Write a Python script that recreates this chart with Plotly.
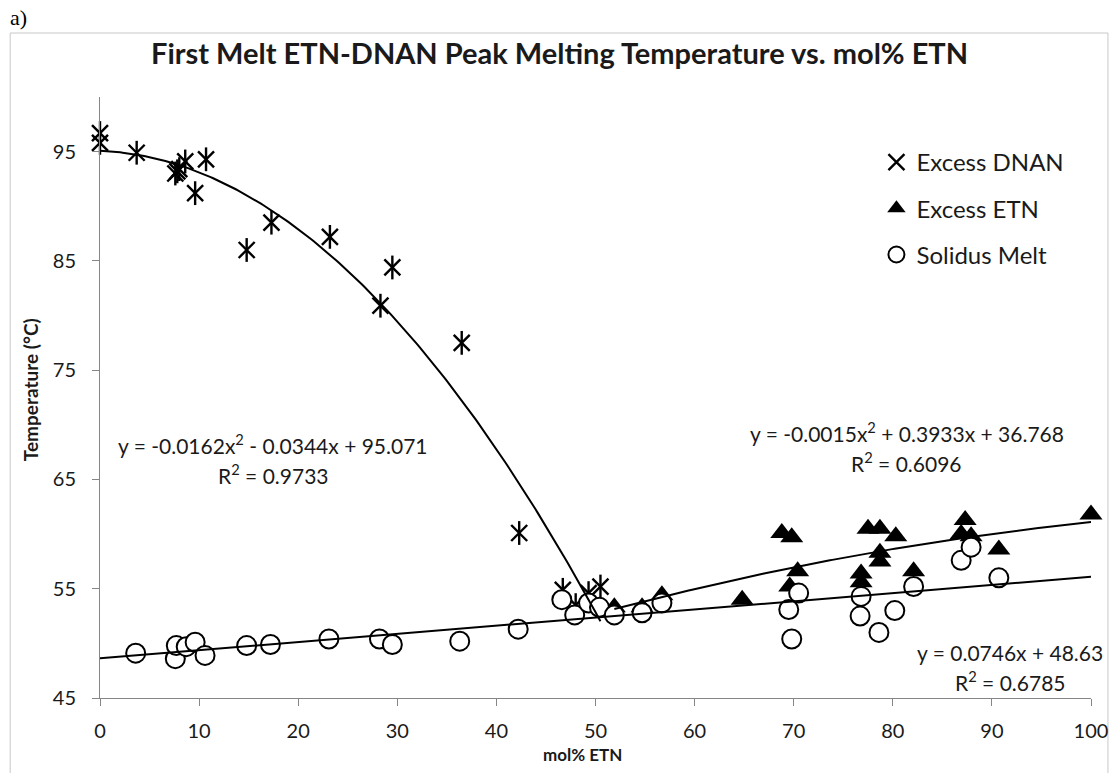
import numpy as np
import plotly.graph_objects as go

# ---------------- data ----------------
dnan_x = [0, 0, 3.7, 7.6, 7.8, 8.0, 8.6, 9.6, 10.7, 14.8, 17.3, 23.2, 28.3, 29.5, 36.5, 42.3, 46.7, 48.0, 49.3, 50.5]
dnan_y = [96.7, 95.8, 94.9, 93.0, 93.2, 93.4, 94.1, 91.2, 94.3, 86.0, 88.5, 87.2, 80.9, 84.4, 77.5, 60.1, 54.9, 53.5, 54.6, 55.2]

etn_x = [51.9, 54.7, 56.7, 64.8, 68.8, 69.8, 70.4, 69.6, 77.5, 78.7, 80.3, 78.7, 78.7, 76.8, 76.8, 82.1, 87.3, 86.9, 87.9, 90.7, 100]
etn_y = [53.3, 53.3, 54.4, 54.0, 60.1, 59.7, 56.6, 55.2, 60.5, 60.5, 59.8, 58.3, 57.5, 56.4, 55.6, 56.6, 61.3, 60.0, 59.8, 58.6, 61.8]

solid_x = [3.6, 7.6, 7.7, 8.7, 9.6, 10.6, 14.8, 17.2, 23.1, 28.2, 29.5, 36.3, 42.2, 46.6, 47.9, 49.3, 50.4,
           51.9, 54.7, 56.7, 69.5, 69.8, 70.5, 76.7, 76.8, 78.6, 80.2, 82.1, 86.9, 87.9, 90.7]
solid_y = [49.1, 48.6, 49.8, 49.7, 50.1, 48.9, 49.8, 49.9, 50.4, 50.4, 49.9, 50.2, 51.3, 54.0, 52.6, 53.7, 53.3,
           52.6, 52.8, 53.7, 53.1, 50.4, 54.6, 52.5, 54.3, 51.0, 53.0, 55.2, 57.6, 58.8, 56.0]

# trendline coefficients (highest power first), as printed on the chart
dnan_fit = [-0.0162, -0.0344, 95.071]
etn_fit = [-0.0015, 0.3933, 36.768]
solid_fit = [0.0746, 48.63]

x_ticks = [0, 10, 20, 30, 40, 50, 60, 70, 80, 90, 100]
y_ticks = [45, 55, 65, 75, 85, 95]

FONT = "Lato"
TXT = "#1a1a1a"

fig = go.Figure()

fig.add_trace(go.Scatter(x=dnan_x, y=dnan_y, mode="markers", name="Excess DNAN",
                         legendgroup="a", cliponaxis=False,
                         marker=dict(symbol="x-thin-open", size=16, color="black",
                                     line=dict(color="black", width=2.4))))
fig.add_trace(go.Scatter(x=dnan_x, y=dnan_y, mode="markers", showlegend=False,
                         legendgroup="a", cliponaxis=False,
                         marker=dict(symbol="line-ns-open", size=17, color="black",
                                     line=dict(color="black", width=2.4))))
fig.add_trace(go.Scatter(x=etn_x, y=etn_y, mode="markers", name="Excess ETN",
                         legendgroup="b", cliponaxis=False,
                         marker=dict(symbol="triangle-up", size=20, color="black",
                                     line=dict(color="black", width=0))))
fig.add_trace(go.Scatter(x=solid_x, y=solid_y, mode="markers", name="Solidus Melt",
                         legendgroup="c", cliponaxis=False,
                         marker=dict(symbol="circle", size=19, color="white",
                                     line=dict(color="black", width=2))))

def fit_line(coeffs, x0, x1):
    xs = np.linspace(x0, x1, 200)
    return xs, np.polyval(coeffs, xs)

for coeffs, x0, x1 in [(dnan_fit, min(dnan_x), max(dnan_x)),
                       (etn_fit, min(etn_x), max(etn_x)),
                       (solid_fit, 0, 100)]:
    xs, ys = fit_line(coeffs, x0, x1)
    fig.add_trace(go.Scatter(x=xs, y=ys, mode="lines", showlegend=False, hoverinfo="skip",
                             cliponaxis=False, line=dict(color="black", width=2)))

ann_font = dict(family=FONT, size=21, color=TXT)
annotations = [
    dict(x=17.5, y=68.2, text="y = -0.0162x<sup>2</sup> - 0.0344x + 95.071"),
    dict(x=17.5, y=65.5, text="R<sup>2</sup> = 0.9733"),
    dict(x=81.4, y=69.3, text="y = -0.0015x<sup>2</sup> + 0.3933x + 36.768"),
    dict(x=81.4, y=66.6, text="R<sup>2</sup> = 0.6096"),
    dict(x=91.8, y=49.2, text="y = 0.0746x + 48.63"),
    dict(x=91.9, y=46.6, text="R<sup>2</sup> = 0.6785"),
]
for a in annotations:
    a.update(xref="x", yref="y", showarrow=False, font=ann_font, xanchor="center", yanchor="middle")


def px_x(p):
    return (p - 100) / 993


def px_y(p):
    return (698 - p) / 601


annotations += [
    dict(text="Temperature (°C)", xref="paper", yref="paper", x=px_x(30), y=px_y(390), textangle=-90,
         showarrow=False, font=dict(family=FONT, size=19, color=TXT, weight="bold"),
         xanchor="center", yanchor="middle"),
    dict(text="mol% ETN", xref="paper", yref="paper", x=0.487, y=px_y(754),
         showarrow=False, font=dict(family=FONT, size=17, color=TXT, weight="bold"),
         xanchor="center", yanchor="middle"),
    dict(text="First Melt ETN-DNAN Peak Melting Temperature vs. mol% ETN", xref="paper", yref="paper",
         x=px_x(560), y=px_y(52), showarrow=False,
         font=dict(family=FONT, size=29, color=TXT, weight="bold"), xanchor="center", yanchor="middle"),
    dict(text="a)", xref="paper", yref="paper", x=px_x(8), y=px_y(18),
         showarrow=False, font=dict(family="Liberation Serif", size=22, color="black"),
         xanchor="left", yanchor="middle"),
]

shapes = [dict(type="rect", xref="paper", yref="paper",
               x0=px_x(10), x1=px_x(1110), y0=px_y(790), y1=px_y(33),
               line=dict(color="#c8c8c8", width=1), fillcolor="rgba(0,0,0,0)", layer="below")]

fig.update_layout(
    width=1120, height=773,
    margin=dict(l=100, r=27, t=97, b=75, pad=0),
    paper_bgcolor="white", plot_bgcolor="white",
    font=dict(family=FONT, color=TXT),
    showlegend=True,
    legend=dict(x=px_x(878), y=px_y(140), xanchor="left", yanchor="top",
                font=dict(family=FONT, size=24, color=TXT), tracegroupgap=12,
                bgcolor="rgba(0,0,0,0)"),
    annotations=annotations,
    shapes=shapes,
)

fig.update_xaxes(range=[0, 100], tickvals=x_ticks, ticktext=[str(v) for v in x_ticks],
                 showgrid=False, zeroline=False, showline=True, linecolor="#868686", linewidth=1,
                 ticks="outside", ticklen=7, tickcolor="#868686", tickwidth=1,
                 tickfont=dict(family=FONT, size=20, color=TXT), ticklabelstandoff=8)
fig.update_yaxes(range=[45, 100], tickvals=y_ticks, ticktext=[str(v) for v in y_ticks],
                 showgrid=False, zeroline=False, showline=True, linecolor="#868686", linewidth=1,
                 ticks="outside", ticklen=7, tickcolor="#868686", tickwidth=1,
                 tickfont=dict(family=FONT, size=20, color=TXT), ticklabelstandoff=12)

fig.write_html("out.html")
